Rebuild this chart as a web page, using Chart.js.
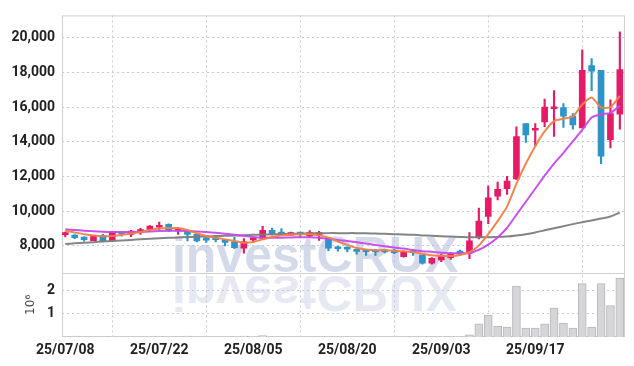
<!DOCTYPE html>
<html>
<head>
<meta charset="utf-8">
<script src="https://cdn.jsdelivr.net/npm/chart.js@4.4.0/dist/chart.umd.min.js"></script>
<style>
  html, body { margin: 0; padding: 0; background: #fff; }
</style>
</head>
<body>
<canvas id="chart" width="634" height="366"></canvas>
<script>
const dates = [
  '25/07/08','25/07/09','25/07/10','25/07/11','25/07/14','25/07/15','25/07/16','25/07/17','25/07/18','25/07/21',
  '25/07/22','25/07/23','25/07/24','25/07/25','25/07/28','25/07/29','25/07/30','25/07/31','25/08/01','25/08/04',
  '25/08/05','25/08/06','25/08/07','25/08/08','25/08/11','25/08/12','25/08/13','25/08/14','25/08/18','25/08/19',
  '25/08/20','25/08/21','25/08/22','25/08/25','25/08/26','25/08/27','25/08/28','25/08/29','25/09/01','25/09/02',
  '25/09/03','25/09/04','25/09/05','25/09/08','25/09/09','25/09/10','25/09/11','25/09/12','25/09/15','25/09/16',
  '25/09/17','25/09/18','25/09/19','25/09/22','25/09/23','25/09/24','25/09/25','25/09/26','25/09/29','25/09/30'
]
const opens = [
  8650, 8630, 8510, 8300, 8610, 8300, 8800, 8670, 8800, 8950,
  9080, 9240, 8860, 8860, 8670, 8470, 8430, 8360, 8240, 7870,
  8350, 8430, 8900, 8800, 8620, 8710, 8580, 8660, 8470, 7870,
  7830, 7710, 7670, 7670, 7750, 7750, 7390, 7630, 7470, 7010,
  7200, 7330, 7700, 7590, 8490, 9710, 10870, 11300, 11870, 15060,
  14670, 15150, 15910, 15970, 15480, 14800, 18400, 18120, 14130, 15590
]
const highs = [
  8800, 8650, 8530, 8620, 8670, 8840, 8840, 8900, 9010, 9180,
  9370, 9280, 9050, 8880, 8700, 8480, 8540, 8380, 8500, 8430,
  8490, 9130, 9030, 9000, 8800, 8790, 8880, 8850, 8480, 8000,
  7950, 7830, 7800, 7800, 7810, 7810, 7700, 7780, 7480, 7330,
  7520, 7620, 7760, 8770, 10180, 11460, 11680, 12020, 14870, 15060,
  15060, 16470, 16950, 16200, 15630, 19300, 18800, 18120, 16420, 20340
]
const lows = [
  8520, 8420, 8270, 8300, 8280, 8270, 8570, 8530, 8670, 8820,
  8950, 8820, 8670, 8290, 8230, 8200, 8230, 8000, 7850, 7590,
  8240, 8400, 8620, 8600, 8600, 8520, 8540, 8320, 7720, 7700,
  7650, 7520, 7450, 7450, 7600, 7550, 7350, 7450, 6950, 6950,
  7100, 7230, 7450, 7270, 8400, 9280, 10650, 10970, 11830, 13970,
  13780, 14870, 14310, 14840, 14730, 14800, 16950, 12750, 13650, 14730
]
const closes = [
  8760, 8480, 8360, 8610, 8300, 8800, 8690, 8860, 8950, 9140,
  9100, 8860, 8890, 8670, 8290, 8330, 8360, 8210, 7900, 8240,
  8390, 8900, 8710, 8680, 8770, 8690, 8770, 8770, 7870, 7840,
  7810, 7690, 7650, 7650, 7660, 7620, 7660, 7610, 7010, 7280,
  7430, 7520, 7520, 8300, 9430, 10780, 11270, 11740, 14310, 14400,
  14700, 16000, 15950, 15480, 14970, 18120, 18080, 13180, 15630, 18170
]
const volumes = [
  4000, 35000, 3000, 4000, 5000, 35000, 3000, 4000, 3000, 5000,
  35000, 4000, 3000, 35000, 4000, 3000, 5000, 4000, 3000, 35000,
  4000, 60000, 3000, 4000, 5000, 3000, 4000, 3000, 35000, 4000,
  3000, 5000, 35000, 4000, 3000, 4000, 5000, 3000, 35000, 4000,
  5000, 3000, 4000, 90000, 570000, 940000, 470000, 430000, 2190000, 380000,
  380000, 570000, 1240000, 600000, 380000, 2290000, 430000, 2290000, 1350000, 2530000
]
const ma5 = [
  8880, 8780, 8680, 8600, 8560, 8570, 8640, 8720, 8810, 8920,
  9010, 9040, 9030, 8920, 8730, 8570, 8480, 8380, 8290, 8190,
  8230, 8380, 8520, 8610, 8650, 8670, 8670, 8610, 8480, 8260,
  8060, 7880, 7790, 7760, 7750, 7730, 7690, 7650, 7550, 7460,
  7430, 7420, 7480, 7640, 8020, 8680, 9430, 10270, 11590, 12750,
  13750, 14600, 15200, 15330, 15460, 16150, 16560, 15990, 16000, 16650
]
const ma10 = [
  8960, 8920, 8880, 8850, 8820, 8800, 8800, 8800, 8810, 8830,
  8860, 8880, 8880, 8860, 8830, 8800, 8760, 8710, 8650, 8590,
  8520, 8480, 8470, 8480, 8490, 8500, 8500, 8470, 8410, 8340,
  8290, 8210, 8140, 8060, 7980, 7910, 7850, 7770, 7700, 7660,
  7610, 7580, 7580, 7600, 7780, 8080, 8490, 9050, 9800, 10550,
  11300, 12050, 12750, 13370, 14030, 14690, 15400, 15590, 15670, 16080
]
const ma60 = [
  8120, 8150, 8190, 8220, 8260, 8290, 8320, 8350, 8390, 8420,
  8450, 8470, 8490, 8510, 8530, 8550, 8570, 8590, 8600, 8620,
  8640, 8660, 8670, 8690, 8700, 8710, 8730, 8730, 8740, 8740,
  8740, 8740, 8730, 8720, 8700, 8680, 8660, 8640, 8610, 8590,
  8560, 8540, 8520, 8500, 8500, 8500, 8510, 8540, 8600, 8680,
  8780, 8900, 9020, 9140, 9260, 9370, 9470, 9580, 9700, 9920
]
const priceTicks = [8000, 10000, 12000, 14000, 16000, 18000, 20000]
const volTicks = [1000000, 2000000]
const dateTicks = [0, 10, 20, 30, 40, 50]

const RED = 'rgb(228, 28, 104)'
const BLUE = 'rgb(46, 148, 200)'
const GRID = '#c6cbda'
const tickFont = { family: "Roboto, 'DejaVu Sans Condensed', sans-serif", size: 14, weight: 'bold' }

const candleColors = closes.map((c, i) => (c >= opens[i] ? RED : BLUE))
const wickData = dates.map((d, i) => ({ x: i, y: [lows[i], highs[i]] }))
const bodyData = dates.map((d, i) => ({ x: i, y: [opens[i], closes[i]] }))
const volData = dates.map((d, i) => ({ x: i, y: volumes[i] }))
const line = (arr) => dates.map((d, i) => ({ x: i, y: arr[i] }))

// watermark + panel frame, drawn under the marks
const backdrop = {
  id: 'backdrop',
  beforeDatasetsDraw(chart) {
    const ctx = chart.ctx
    const a = chart.chartArea
    const sep = chart.scales.y.bottom
    const cx = a.left + 253
    ctx.save()
    ctx.font = "bold 50px 'Liberation Sans', Arial, sans-serif"
    ctx.textAlign = 'center'
    ctx.textBaseline = 'alphabetic'
    ctx.fillStyle = 'rgba(178, 188, 216, 0.55)'
    ctx.fillText('investCRUX', cx, sep - 1)
    ctx.beginPath()
    ctx.rect(a.left, sep, a.right - a.left, a.bottom - sep)
    ctx.clip()
    ctx.translate(0, 2 * sep)
    ctx.scale(1, -1)
    ctx.fillStyle = 'rgba(190, 198, 222, 0.38)'
    ctx.fillText('investCRUX', cx, sep - 3)
    ctx.restore()

    ctx.save()
    ctx.strokeStyle = '#d0d0d0'
    ctx.lineWidth = 1
    ctx.strokeRect(a.left + 0.5, a.top + 0.5, a.right - a.left - 1, a.bottom - a.top - 1)
    ctx.beginPath()
    ctx.moveTo(a.left, Math.round(sep) + 0.5)
    ctx.lineTo(a.right, Math.round(sep) + 0.5)
    ctx.stroke()
    ctx.restore()
  }
}

new Chart(document.getElementById('chart'), {
  type: 'bar',
  data: {
    datasets: [
      { type: 'line', data: line(ma5), borderColor: 'rgba(240, 128, 70, 0.95)', borderWidth: 2, pointRadius: 0, tension: 0.2, yAxisID: 'y', order: 0 },
      { type: 'line', data: line(ma10), borderColor: 'rgba(198, 72, 235, 0.95)', borderWidth: 2, pointRadius: 0, tension: 0.2, yAxisID: 'y', order: 0 },
      { type: 'line', data: line(ma60), borderColor: 'rgba(125, 125, 125, 0.95)', borderWidth: 2, pointRadius: 0, tension: 0.2, yAxisID: 'y', order: 0 },
      { data: bodyData, backgroundColor: candleColors, barThickness: 6, minBarLength: 2, grouped: false, yAxisID: 'y', order: 1 },
      { data: wickData, backgroundColor: candleColors, barThickness: 1.5, grouped: false, yAxisID: 'y', order: 2 },
      { data: volData, backgroundColor: 'rgb(214, 214, 217)', borderColor: 'rgb(182, 182, 188)', borderWidth: 1, barThickness: 8, grouped: false, yAxisID: 'yv', order: 3 }
    ]
  },
  options: {
    responsive: false,
    animation: false,
    layout: { padding: { top: 9, right: 9, left: 0, bottom: 0 } },
    plugins: { legend: { display: false }, tooltip: { enabled: false } },
    scales: {
      x: {
        type: 'linear',
        min: -0.35,
        max: 59.55,
        offset: false,
        afterBuildTicks: (s) => { s.ticks = dateTicks.map((v) => ({ value: v })) },
        afterFit: (s) => { s.height = 29 },
        ticks: { callback: (v) => dates[v], font: tickFont, color: '#222', padding: 5, maxRotation: 0, autoSkip: false },
        grid: { color: GRID, drawTicks: false },
        border: { display: false, dash: [2, 3] }
      },
      yv: {
        type: 'linear',
        position: 'left',
        stack: 'panes',
        stackWeight: 1,
        min: 0,
        max: 2760000,
        afterBuildTicks: (s) => { s.ticks = volTicks.map((v) => ({ value: v })) },
        afterFit: (s) => { s.width = 62 },
        ticks: { callback: (v) => v / 1000000, font: tickFont, color: '#222', padding: 7 },
        title: { display: true, text: '10⁶', color: '#444', padding: { top: 24, bottom: 0 }, font: { family: "'DejaVu Sans', sans-serif", size: 12 } },
        grid: { color: GRID, drawTicks: false },
        border: { display: false, dash: [2, 3] }
      },
      y: {
        type: 'linear',
        position: 'left',
        stack: 'panes',
        stackWeight: 4,
        min: 6460,
        max: 21290,
        afterBuildTicks: (s) => { s.ticks = priceTicks.map((v) => ({ value: v })) },
        afterFit: (s) => { s.width = 62 },
        ticks: { callback: (v) => v.toLocaleString('en-US'), font: tickFont, color: '#222', padding: 7 },
        grid: { color: GRID, drawTicks: false },
        border: { display: false, dash: [2, 3] }
      }
    }
  },
  plugins: [backdrop]
})
</script>
</body>
</html>
